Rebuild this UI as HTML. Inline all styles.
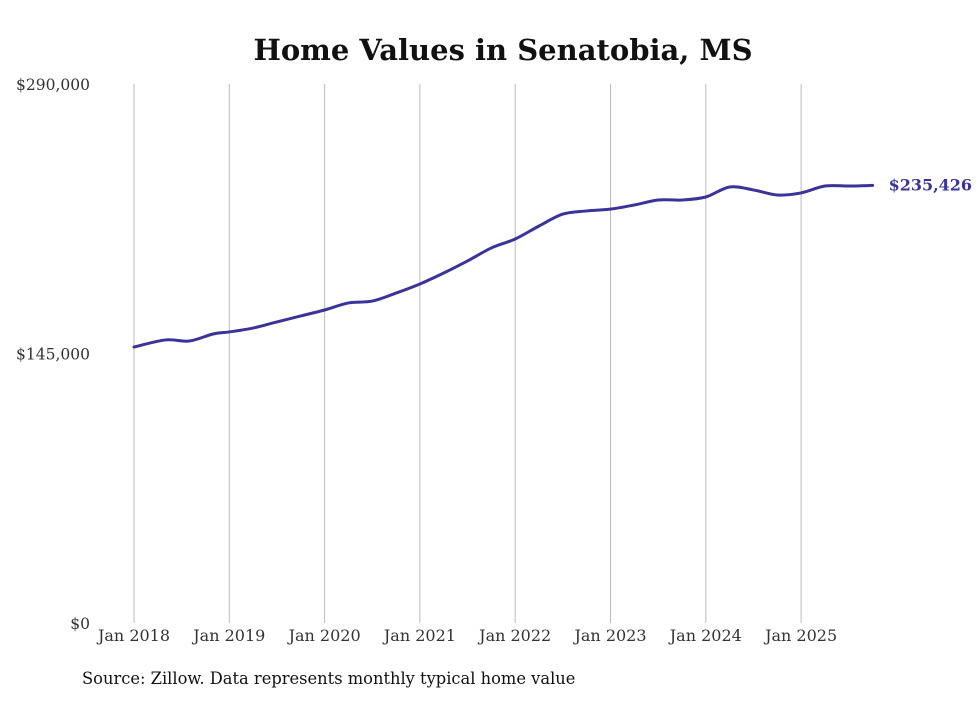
<!DOCTYPE html>
<html><head><meta charset="utf-8"><style>
body{margin:0;background:#fff;width:980px;height:699px;overflow:hidden;font-family:"DejaVu Serif","Liberation Serif",serif;}
</style></head><body>
<svg id="chart" width="980" height="699" xmlns="http://www.w3.org/2000/svg">
<text x="503" y="60" text-anchor="middle" font-family="DejaVu Serif, serif" font-weight="bold" font-size="29" fill="#111">Home Values in Senatobia, MS</text>
<g id="grid"></g>
<g id="yticks"></g>
<g id="xticks"></g>
<g id="series"></g>
<text x="82" y="684" font-family="DejaVu Serif, serif" font-size="16.3" fill="#111">Source: Zillow. Data represents monthly typical home value</text>
</svg>
<script>
const xYears=[2018,2019,2020,2021,2022,2023,2024,2025];
const xLabels=["Jan 2018","Jan 2019","Jan 2020","Jan 2021","Jan 2022","Jan 2023","Jan 2024","Jan 2025"];
const yTicks=[0,145000,290000];
const yLabels=["$0","$145,000","$290,000"];
const dates=[2018,2018.33,2018.58,2018.83,2019,2019.25,2019.5,2019.75,2020,2020.25,2020.5,2020.75,2021,2021.25,2021.5,2021.75,2022,2022.25,2022.5,2022.75,2023,2023.25,2023.5,2023.75,2024,2024.25,2024.5,2024.75,2025,2025.25,2025.5,2025.75];
const values=[148500,152300,151700,155500,156600,158700,162000,165200,168400,172200,173200,177500,182400,188300,194800,201800,206600,213600,220000,221700,222700,224900,227600,227600,229200,234600,233000,230300,231400,235100,235100,235426];
const endLabel="$235,426";
const NS="http://www.w3.org/2000/svg";
const X=t=>134+(t-2018)*95.3;
const Y=v=>623-v/290000*539;
function mk(tag,attrs,parent,txt){const e=document.createElementNS(NS,tag);for(const k in attrs)e.setAttribute(k,attrs[k]);if(txt!==undefined)e.textContent=txt;parent.appendChild(e);return e;}
const grid=document.getElementById('grid'),xt=document.getElementById('xticks'),yt=document.getElementById('yticks'),se=document.getElementById('series');
xYears.forEach((yr,i)=>{
 const l=mk('line',{x1:X(yr),x2:X(yr),y1:84,y2:623,stroke:'#bbb','stroke-width':1},grid);
 
 
 const t=mk('text',{x:X(yr),y:641,'text-anchor':'middle','font-size':16,fill:'#333'},xt,xLabels[i]);
 
 
});
yTicks.forEach((v,i)=>{
 const t=mk('text',{x:90,y:Y(v)+6,'text-anchor':'end','font-size':15.5,fill:'#333'},yt,yLabels[i]);
 
 
});
const pts=dates.map((d,i)=>[X(d),Y(values[i])]);
let d='M'+pts[0][0]+','+pts[0][1];
for(let i=0;i<pts.length-1;i++){
 const p0=pts[Math.max(0,i-1)],p1=pts[i],p2=pts[i+1],p3=pts[Math.min(pts.length-1,i+2)];
 const c1=[p1[0]+(p2[0]-p0[0])/6,p1[1]+(p2[1]-p0[1])/6],c2=[p2[0]-(p3[0]-p1[0])/6,p2[1]-(p3[1]-p1[1])/6];
 d+=' C'+c1+' '+c2+' '+p2;
}
const path=mk('path',{d:d,fill:'none',stroke:'#3a3399','stroke-width':3,'stroke-linejoin':'round','stroke-linecap':'round'},se);


const last=pts[pts.length-1];
const lab=mk('text',{x:last[0]+16,y:last[1]+5,'font-size':16,'font-weight':'bold',fill:'#3a3399'},se,endLabel);


</script>
</body></html>
